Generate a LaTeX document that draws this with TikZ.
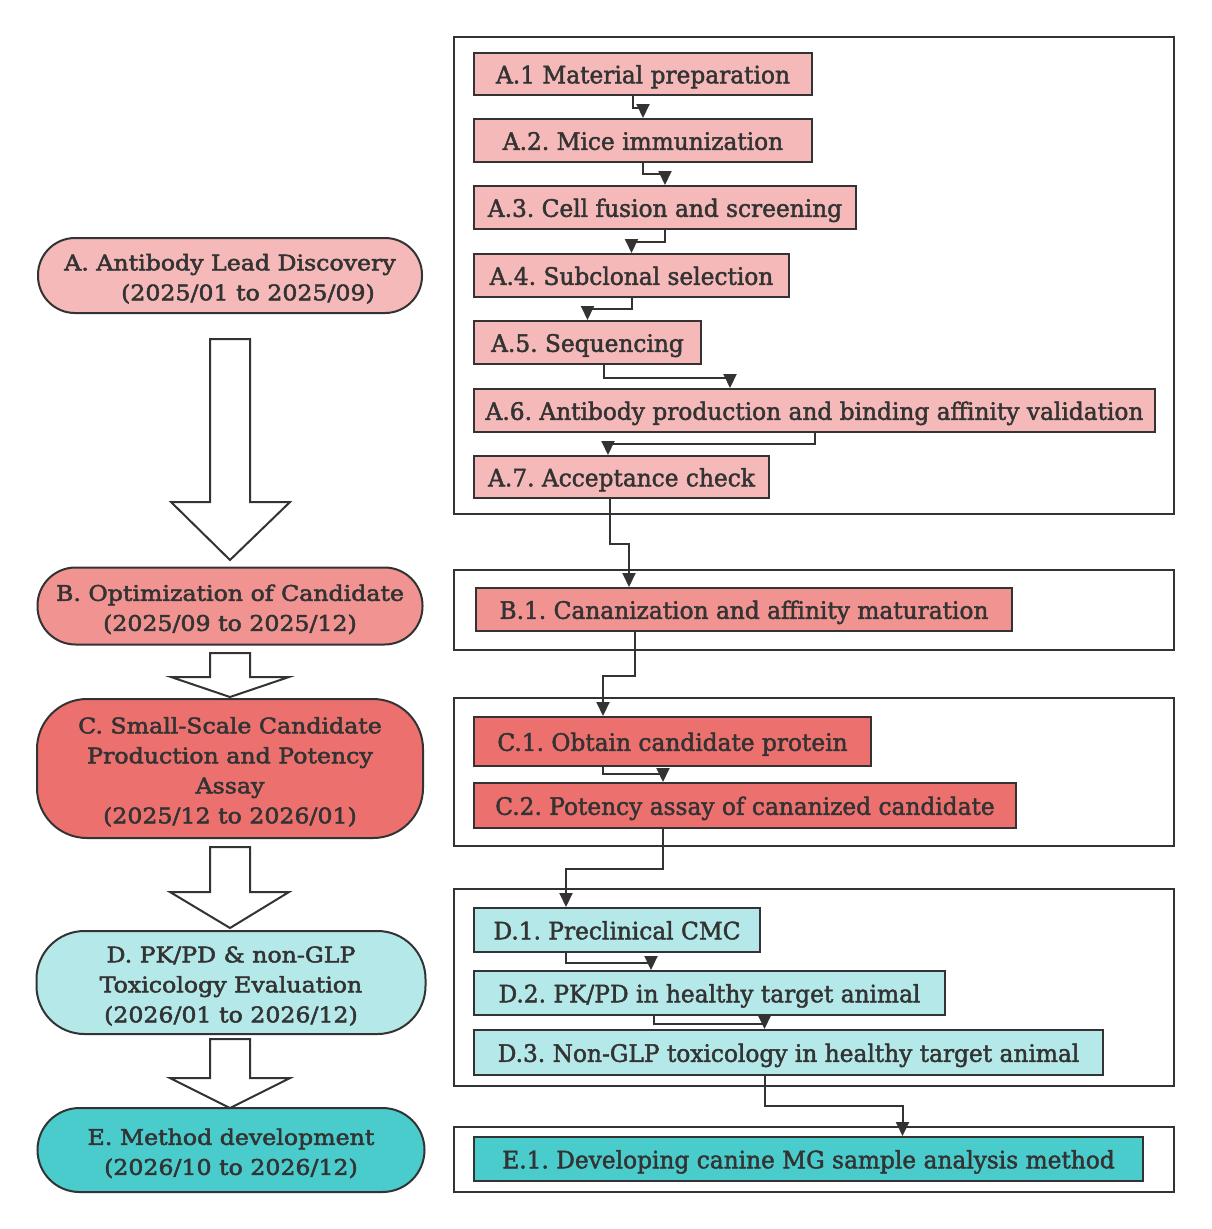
\documentclass[tikz,border=0pt]{standalone}
\usepackage{fontspec}
\setmainfont{DejaVu Serif}
\newfontfamily\leftfont[FakeStretch=1.1,FakeBold=2.3]{DejaVu Serif}
\newfontfamily\rightfont[FakeStretch=0.97,FakeBold=1.8]{DejaVu Serif}
\usetikzlibrary{arrows.meta}
\definecolor{ink}{HTML}{333333}
\definecolor{cA}{HTML}{F4B9B8}
\definecolor{cB}{HTML}{F09391}
\definecolor{cC}{HTML}{EC706E}
\definecolor{cD}{HTML}{B5E9E9}
\definecolor{cE}{HTML}{4ACBCC}
\newcommand\mkbox[7]{\node[rbox, fill=#6, minimum width={#4-#2}, minimum height={#5-#3}] (#1) at ({(#2+#4)/2},{(#3+#5)/2}) {#7};}
\newcommand\lift{\rule{0pt}{23pt}}
\frenchspacing
\begin{document}
\begin{tikzpicture}[x=1pt,y=-1pt,
  lnode/.style={draw=ink, line width=2pt, text=ink, align=center, font=\leftfont\fontsize{21.5}{30}\selectfont, inner sep=0pt},
  rbox/.style={draw=ink, line width=2pt, text=ink, font=\rightfont\fontsize{24}{28}\selectfont, inner sep=0pt, text height=21pt, text depth=2.4pt},
  cont/.style={draw=ink, line width=2pt},
  blk/.style={draw=ink, fill=white, line width=2pt, line join=miter},
  conn/.style={draw=ink, line width=2pt, -{Triangle[width=13pt,length=14pt]}}]
\useasboundingbox (0,0) rectangle (1211,1229);
\fill[white] (0,0) rectangle (1211,1229);
% left phase nodes
\node[lnode, fill=cA, minimum width=384, minimum height=75, rounded corners=37] (A) at (230,275.5) {\lift A. Antibody Lead Discovery\\\hspace*{36pt}(2025/01 to 2025/09)};
\node[lnode, fill=cB, minimum width=385, minimum height=77, rounded corners=38] (B) at (230,606) {\lift B. Optimization of Candidate\\(2025/09 to 2025/12)};
\node[lnode, fill=cC, minimum width=386, minimum height=139, rounded corners=50] (C) at (230,768.5) {\lift C. Small-Scale Candidate\\Production and Potency\\Assay\\(2025/12 to 2026/01)};
\node[lnode, fill=cD, minimum width=389, minimum height=103, rounded corners=48] (D) at (231,982.5) {\lift D. PK/PD \& non-GLP\\Toxicology Evaluation\\(2026/01 to 2026/12)};
\node[lnode, fill=cE, minimum width=387, minimum height=84, rounded corners=42] (E) at (231,1150) {\lift E. Method development\\(2026/10 to 2026/12)};
% block arrows
\draw[blk] (210,339) -- (250,339) -- (250,502) -- (290,502) -- (230,560) -- (171,502) -- (210,502) -- cycle;
\draw[blk] (210,653) -- (250,653) -- (250,677) -- (289,677) -- (230,697) -- (171,677) -- (210,677) -- cycle;
\draw[blk] (210,847) -- (250,847) -- (250,892) -- (289,892) -- (230,928) -- (170,892) -- (210,892) -- cycle;
\draw[blk] (210,1039) -- (250,1039) -- (250,1078) -- (290,1078) -- (230,1108) -- (170,1078) -- (210,1078) -- cycle;
% containers
\draw[cont] (454,37) rectangle (1174,514);
\draw[cont] (454,570) rectangle (1174,650);
\draw[cont] (454,698) rectangle (1174,846);
\draw[cont] (454,889) rectangle (1174,1086);
\draw[cont] (454,1127) rectangle (1174,1192);
% task boxes
\mkbox{A1}{474}{53}{812}{95}{cA}{A.1 Material preparation}
\mkbox{A2}{474}{119}{812}{162}{cA}{A.2. Mice immunization}
\mkbox{A3}{474}{186}{856}{229}{cA}{A.3. Cell fusion and screening}
\mkbox{A4}{474}{254}{789}{297}{cA}{A.4. Subclonal selection}
\mkbox{A5}{474}{321}{701}{364}{cA}{A.5. Sequencing}
\mkbox{A6}{474}{389}{1155}{432}{cA}{A.6. Antibody production and binding affinity validation}
\mkbox{A7}{474}{456}{769}{498}{cA}{A.7. Acceptance check}
\mkbox{B1}{476}{588}{1012}{631}{cB}{B.1. Cananization and affinity maturation}
\mkbox{C1}{474}{717}{871}{766}{cC}{C.1. Obtain candidate protein}
\mkbox{C2}{474}{783}{1016}{828}{cC}{C.2. Potency assay of cananized candidate}
\mkbox{D1}{474}{908}{760}{952}{cD}{D.1. Preclinical CMC}
\mkbox{D2}{474}{971}{945}{1015}{cD}{D.2. PK/PD in healthy target animal}
\mkbox{D3}{474}{1030}{1103}{1075}{cD}{D.3. Non-GLP toxicology in healthy target animal}
\mkbox{E1}{474}{1137}{1143}{1181}{cE}{E.1. Developing canine MG sample analysis method}
% connectors
\draw[conn] ([xshift=-10pt]A1.south) -- ++(0,12) -| (A2.north);
\draw[conn] (A2.south) -- ++(0,11) -| (A3.north);
\draw[conn] (A3.south) -- ++(0,12) -| (A4.north);
\draw[conn] (A4.south) -- ++(0,11) -| (A5.north);
\draw[conn] ([xshift=16.5pt]A5.south) -- ++(0,13) -| ([xshift=-84.5pt]A6.north);
\draw[conn] (A6.south) -- ++(0,11) -| ([xshift=-13.5pt]A7.north);
\draw[conn] ([xshift=-11.5pt]A7.south) -- ++(0,45) -| ([xshift=-115pt]B1.north);
\draw[conn] ([xshift=-109pt]B1.south) -- ++(0,44) -| ([xshift=-69.5pt]C1.north);
\draw[conn] ([xshift=-69.5pt]C1.south) -- ++(0,7) -| ([xshift=-82pt]C2.north);
\draw[conn] ([xshift=-82pt]C2.south) -- ++(0,40) -| ([xshift=-51pt]D1.north);
\draw[conn] ([xshift=-51pt]D1.south) -- ++(0,10) -| ([xshift=-58.5pt]D2.north);
\draw[conn] ([xshift=-56pt]D2.south) -- ++(0,8) -| ([xshift=-24pt]D3.north);
\draw[conn] ([xshift=-24pt]D3.south) -- ++(0,30) -| ([xshift=94pt]E1.north);
\end{tikzpicture}
\end{document}
